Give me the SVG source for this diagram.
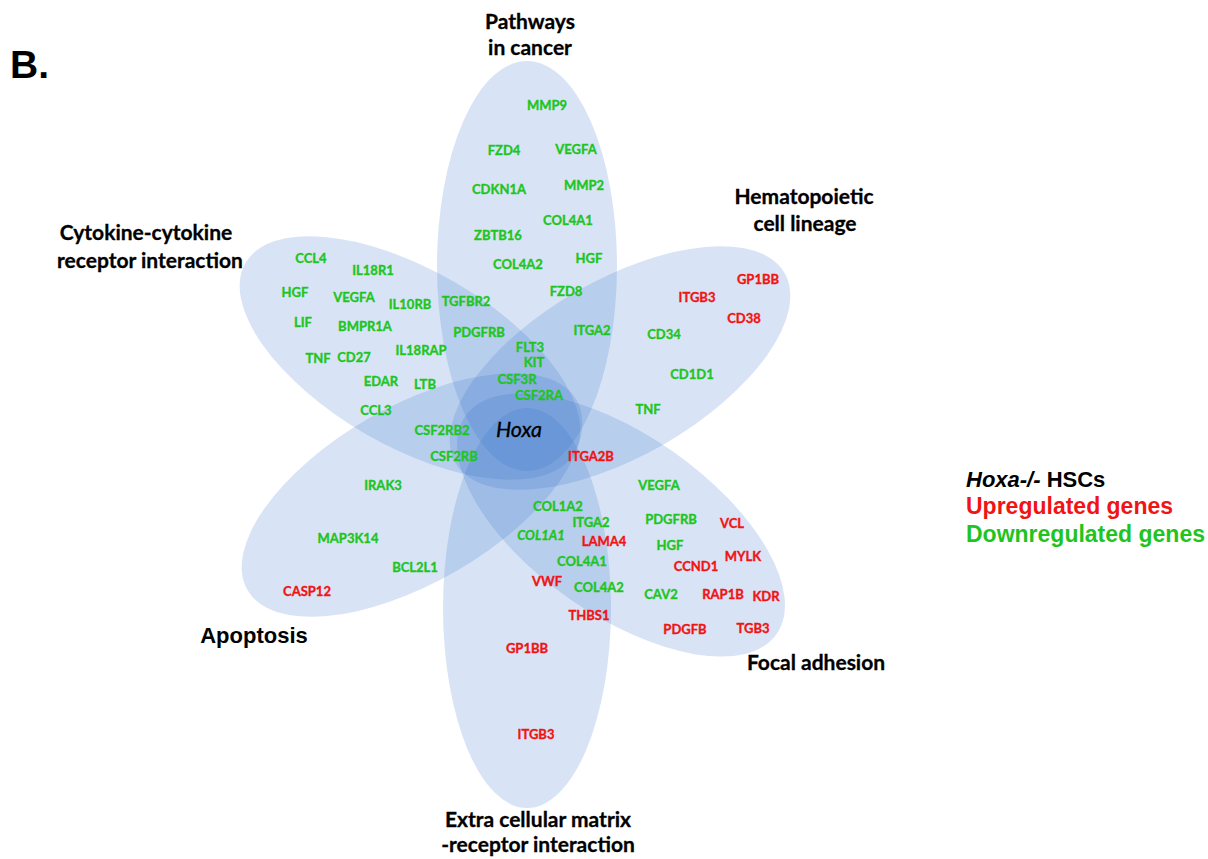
<svg xmlns="http://www.w3.org/2000/svg" width="1208" height="859" viewBox="0 0 1208 859">
<style>
.petal{fill:#3070c8;fill-opacity:0.19;stroke:none}
.g{font-family:Lato,"Open Sans",sans-serif;font-weight:bold;font-size:13px;text-anchor:middle;fill:#1fc41f;stroke:#1fc41f;stroke-width:0.35}
.r{font-family:Lato,"Open Sans",sans-serif;font-weight:bold;font-size:13px;text-anchor:middle;fill:#f01414;stroke:#f01414;stroke-width:0.35}
.t{font-family:Lato,"Open Sans",sans-serif;font-weight:bold;font-size:21px;text-anchor:middle;fill:#000;stroke:#000;stroke-width:0.3}
.a{font-family:"Liberation Sans",Arial,sans-serif;font-weight:bold;fill:#000}
</style>
<rect width="1208" height="859" fill="#fff"/>
<g id="petals">
<ellipse id="p-cancer" class="petal" cx="527" cy="266" rx="90" ry="205"/>
<ellipse id="p-ecm" class="petal" cx="527" cy="608" rx="84" ry="200"/>
<ellipse id="p-cytokine" class="petal" cx="410" cy="358" rx="190" ry="88" transform="rotate(30 410 358)"/>
<ellipse id="p-hema" class="petal" cx="620" cy="368" rx="190" ry="88" transform="rotate(-30 620 368)"/>
<ellipse id="p-focal" class="petal" cx="621" cy="525" rx="190" ry="90" transform="rotate(35 621 525)"/>
<ellipse id="p-apoptosis" class="petal" cx="412" cy="495" rx="190" ry="88" transform="rotate(-30 412 495)"/>
</g>
<g id="connectors"></g>
<text class="a" x="10" y="78" font-size="39">B.</text>
<g id="label-cancer">
<text class="t" x="530" y="29">Pathways</text>
<text class="t" x="530" y="55">in cancer</text>
</g>
<g id="label-hema">
<text class="t" x="804" y="204">Hematopoietic</text>
<text class="t" x="805" y="231">cell lineage</text>
</g>
<g id="label-cytokine">
<text class="t" x="146" y="240">Cytokine-cytokine</text>
<text class="t" x="150" y="268">receptor interaction</text>
</g>
<g id="label-apoptosis">
<text class="a" x="254" y="643" font-size="22" text-anchor="middle">Apoptosis</text>
</g>
<g id="label-focal">
<text class="t" x="816" y="670">Focal adhesion</text>
</g>
<g id="label-ecm">
<text class="t" x="538" y="827">Extra cellular matrix</text>
<text class="t" x="538" y="852">-receptor interaction</text>
</g>
<g id="hoxa">
<text x="519" y="437" font-family="Lato,'Open Sans',sans-serif" font-style="italic" font-size="21.5" text-anchor="middle" fill="#000" stroke="#000" stroke-width="0.3">Hoxa</text>
</g>
<g id="genes-cancer">
<text class="g" x="547" y="110">MMP9</text>
<text class="g" x="504" y="155">FZD4</text>
<text class="g" x="576" y="154">VEGFA</text>
<text class="g" x="499" y="194">CDKN1A</text>
<text class="g" x="584" y="190">MMP2</text>
<text class="g" x="568" y="225">COL4A1</text>
<text class="g" x="498" y="240">ZBTB16</text>
<text class="g" x="589" y="263">HGF</text>
<text class="g" x="518" y="269">COL4A2</text>
<text class="g" x="566" y="296">FZD8</text>
<text class="g" x="466" y="306">TGFBR2</text>
<text class="g" x="479" y="337">PDGFRB</text>
<text class="g" x="592" y="335">ITGA2</text>
<text class="g" x="530" y="352">FLT3</text>
<text class="g" x="534" y="367">KIT</text>
<text class="g" x="517" y="384">CSF3R</text>
<text class="g" x="539" y="400">CSF2RA</text>
</g>
<g id="genes-cytokine">
<text class="g" x="311" y="263">CCL4</text>
<text class="g" x="373" y="275">IL18R1</text>
<text class="g" x="295" y="297">HGF</text>
<text class="g" x="354" y="302">VEGFA</text>
<text class="g" x="410" y="309">IL10RB</text>
<text class="g" x="303" y="327">LIF</text>
<text class="g" x="365" y="331">BMPR1A</text>
<text class="g" x="421" y="355">IL18RAP</text>
<text class="g" x="318" y="363">TNF</text>
<text class="g" x="354" y="362">CD27</text>
<text class="g" x="381" y="386">EDAR</text>
<text class="g" x="425" y="389">LTB</text>
<text class="g" x="376" y="415">CCL3</text>
<text class="g" x="442" y="435">CSF2RB2</text>
<text class="g" x="454" y="461">CSF2RB</text>
</g>
<g id="genes-hema">
<text class="r" x="591" y="461">ITGA2B</text>
<text class="r" x="758" y="284">GP1BB</text>
<text class="r" x="697" y="302">ITGB3</text>
<text class="r" x="744" y="323">CD38</text>
<text class="g" x="664" y="339">CD34</text>
<text class="g" x="692" y="379">CD1D1</text>
<text class="g" x="648" y="414">TNF</text>
</g>
<g id="genes-apoptosis">
<text class="g" x="383" y="490">IRAK3</text>
<text class="g" x="348" y="543">MAP3K14</text>
<text class="g" x="415" y="572">BCL2L1</text>
<text class="r" x="307" y="596">CASP12</text>
</g>
<g id="genes-ecm">
<text class="g" x="558" y="511">COL1A2</text>
<text class="g" x="591" y="527">ITGA2</text>
<text class="g" x="541" y="540" font-style="italic">COL1A1</text>
<text class="r" x="604" y="546">LAMA4</text>
<text class="g" x="582" y="566">COL4A1</text>
<text class="r" x="547" y="586">VWF</text>
<text class="g" x="599" y="592">COL4A2</text>
<text class="r" x="589" y="620">THBS1</text>
<text class="r" x="527" y="653">GP1BB</text>
<text class="r" x="536" y="739">ITGB3</text>
</g>
<g id="genes-focal">
<text class="g" x="659" y="490">VEGFA</text>
<text class="g" x="671" y="524">PDGFRB</text>
<text class="r" x="732" y="528">VCL</text>
<text class="g" x="670" y="550">HGF</text>
<text class="r" x="743" y="561">MYLK</text>
<text class="r" x="696" y="571">CCND1</text>
<text class="g" x="661" y="599">CAV2</text>
<text class="r" x="723" y="599">RAP1B</text>
<text class="r" x="766" y="601">KDR</text>
<text class="r" x="685" y="634">PDGFB</text>
<text class="r" x="753" y="633">TGB3</text>
</g>
<g id="legend">
<text class="a" x="966" y="487" font-size="22"><tspan font-style="italic">Hoxa-/-</tspan> HSCs</text>
<text class="a" x="966" y="514" font-size="23" style="fill:#f01414">Upregulated genes</text>
<text class="a" x="966" y="542" font-size="23" style="fill:#1fc41f">Downregulated genes</text>
</g>
</svg>
